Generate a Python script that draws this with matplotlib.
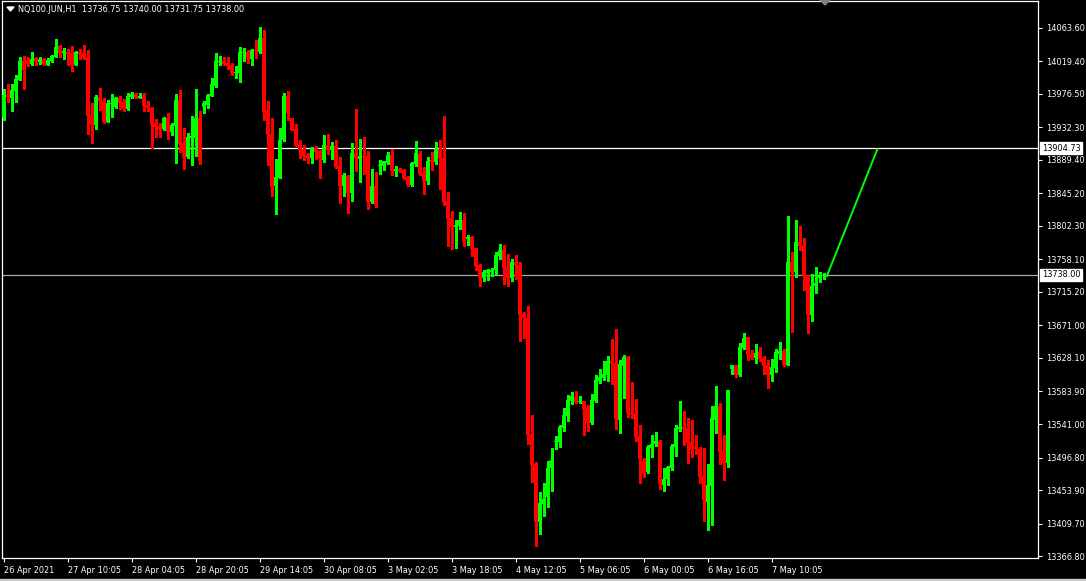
import matplotlib
matplotlib.use("Agg")
import matplotlib.pyplot as plt
from matplotlib.patches import Polygon, Rectangle

# ---------------- data (H1 candles, NQ100.JUN) ----------------
opens = [13945.1, 13975.0, 13971.5, 13980.8, 13995.3, 14019.5, 14020.8, 14016.4, 14023.9, 14019.0,
         14022.5, 14015.1, 14019.5, 14025.6, 14039.7, 14030.5, 14031.8, 14030.5, 14015.1, 14031.8,
         14030.5, 14025.2, 13948.7, 13935.5, 13972.4, 13967.1, 13939.4, 13963.2, 13959.2, 13971.1,
         13965.8, 13956.6, 13972.4, 13976.4, 13971.1, 13975.0, 13961.8, 13957.9, 13938.1, 13934.1,
         13930.2, 13944.7, 13926.2, 13934.1, 13968.4, 13911.7, 13893.2, 13918.3, 13918.3, 13944.7,
         13959.2, 13961.8, 13973.7, 13986.9, 14018.6, 14019.9, 14017.3, 14014.6, 14004.1, 14004.1,
         14030.5, 14031.8, 14022.5, 14034.4, 14031.8, 14050.3, 13953.9, 13923.6, 13855.0, 13865.5,
         13915.7, 13973.7, 13944.7, 13930.2, 13909.1, 13903.8, 13895.9, 13891.9, 13905.1, 13901.2,
         13889.3, 13909.1, 13902.5, 13907.8, 13881.4, 13855.0, 13868.2, 13845.7, 13898.5, 13890.6,
         13894.6, 13894.6, 13833.9, 13855.0, 13881.4, 13881.4, 13885.3, 13895.9, 13874.8, 13877.4,
         13876.1, 13866.9, 13856.3, 13884.0, 13897.2, 13872.1, 13861.6, 13889.3, 13886.7, 13903.8,
         13892.0, 13835.2, 13812.8, 13800.9, 13802.2, 13810.2, 13785.1, 13787.7, 13773.2, 13750.8,
         13733.6, 13740.2, 13741.5, 13744.2, 13762.7, 13770.6, 13748.2, 13733.6, 13754.8, 13750.8,
         13686.6, 13680.9, 13527.8, 13488.2, 13412.2, 13435.5, 13444.7, 13483.0, 13517.3, 13517.7,
         13536.2, 13551.6, 13571.4, 13576.6, 13570.1, 13571.4, 13562.1, 13542.3, 13571.4, 13597.8,
         13601.7, 13605.7, 13624.2, 13621.5, 13546.7, 13617.6, 13629.4, 13555.5, 13555.5, 13525.2,
         13492.6, 13477.7, 13509.8, 13514.6, 13518.6, 13461.0, 13468.9, 13483.0, 13511.1, 13534.4,
         13537.1, 13535.7, 13517.3, 13510.7, 13508.0, 13472.3, 13438.5, 13459.6, 13546.2, 13564.7,
         13505.3, 13489.5, 13613.5, 13617.5, 13606.0, 13641.2, 13655.7, 13633.3, 13628.0, 13635.9,
         13628.0, 13618.8, 13605.6, 13614.8, 13633.3, 13637.3, 13618.8, 13754.7, 13741.5, 13781.1,
         13777.1, 13737.5, 13684.8, 13723.0, 13733.6, 13736.75]
highs = [13983.0, 13989.6, 13989.6, 14001.4, 14024.7, 14026.5, 14025.6, 14031.8, 14025.2, 14025.2,
         14023.9, 14023.9, 14027.8, 14048.9, 14041.5, 14037.1, 14035.7, 14039.7, 14033.1, 14035.7,
         14041.0, 14034.4, 13964.5, 13975.0, 13984.3, 13971.1, 13968.4, 13976.4, 13972.4, 13973.7,
         13969.8, 13977.7, 13979.0, 13977.7, 13977.7, 13977.7, 13967.1, 13959.2, 13943.4, 13938.1,
         13946.0, 13951.3, 13938.1, 13976.4, 13981.6, 13931.5, 13924.9, 13947.3, 13983.0, 13953.9,
         13967.1, 13976.4, 13997.5, 14030.5, 14026.5, 14025.2, 14025.2, 14017.3, 14013.3, 14038.4,
         14037.1, 14034.4, 14035.7, 14047.6, 14064.8, 14060.8, 13967.1, 13944.7, 13890.6, 13931.5,
         13977.7, 13980.3, 13944.7, 13936.8, 13915.7, 13909.1, 13898.5, 13906.4, 13907.8, 13902.5,
         13922.3, 13923.6, 13913.0, 13915.7, 13893.2, 13872.1, 13869.5, 13911.7, 13956.6, 13917.0,
         13919.6, 13901.2, 13877.4, 13873.5, 13889.3, 13888.0, 13899.8, 13903.8, 13881.4, 13878.7,
         13877.4, 13868.2, 13886.6, 13914.4, 13901.2, 13880.0, 13893.2, 13899.9, 13913.1, 13915.7,
         13947.4, 13847.1, 13822.0, 13810.2, 13820.7, 13819.4, 13790.4, 13789.1, 13773.2, 13752.1,
         13744.2, 13745.5, 13746.8, 13767.9, 13778.5, 13777.2, 13765.3, 13758.7, 13764.0, 13754.8,
         13688.8, 13696.7, 13552.9, 13490.9, 13451.3, 13463.2, 13492.2, 13509.4, 13525.2, 13539.7,
         13562.1, 13579.3, 13583.2, 13584.6, 13578.0, 13571.4, 13566.1, 13580.6, 13605.7, 13613.6,
         13624.2, 13630.7, 13653.2, 13666.4, 13625.5, 13632.1, 13630.7, 13596.4, 13574.0, 13539.7,
         13496.2, 13513.3, 13526.5, 13530.5, 13519.9, 13483.0, 13485.6, 13514.6, 13539.7, 13571.4,
         13558.2, 13548.9, 13546.3, 13526.5, 13511.1, 13509.3, 13488.2, 13564.7, 13591.1, 13568.7,
         13526.4, 13585.8, 13618.8, 13618.8, 13647.8, 13661.0, 13655.7, 13638.6, 13646.5, 13642.5,
         13630.7, 13625.4, 13626.7, 13639.9, 13649.1, 13639.9, 13815.4, 13767.9, 13810.1, 13802.2,
         13786.4, 13737.5, 13738.9, 13748.1, 13741.5, 13740.0]
lows = [13942.1, 13966.2, 13954.4, 13966.2, 13994.8, 13983.0, 14013.7, 14015.1, 14015.1, 14016.4,
        14015.1, 14015.1, 14018.6, 14024.7, 14024.7, 14023.0, 14015.1, 14007.1, 14015.1, 14023.0,
        14023.0, 13924.0, 13912.2, 13930.6, 13955.3, 13938.1, 13939.4, 13946.0, 13957.9, 13956.6,
        13954.4, 13955.3, 13971.5, 13971.1, 13971.1, 13953.9, 13953.9, 13905.1, 13919.6, 13919.6,
        13928.9, 13917.0, 13922.3, 13885.3, 13899.8, 13877.4, 13891.9, 13882.7, 13894.6, 13884.0,
        13951.3, 13957.9, 13973.7, 13985.6, 14014.6, 14014.6, 14009.3, 14001.4, 13997.5, 13992.2,
        14019.9, 14017.3, 14014.6, 14023.9, 14030.5, 13942.1, 13882.7, 13841.8, 13818.0, 13865.5,
        13914.4, 13942.1, 13928.9, 13907.8, 13891.9, 13889.3, 13885.3, 13885.3, 13890.6, 13865.5,
        13886.6, 13897.2, 13890.6, 13878.7, 13832.5, 13841.8, 13819.4, 13835.2, 13874.8, 13860.3,
        13870.8, 13824.6, 13832.5, 13827.3, 13870.8, 13876.1, 13884.0, 13869.5, 13868.2, 13873.5,
        13864.2, 13855.0, 13855.0, 13881.4, 13869.5, 13844.4, 13857.6, 13876.1, 13884.1, 13851.1,
        13829.9, 13775.9, 13771.9, 13773.2, 13798.3, 13775.9, 13777.2, 13762.7, 13744.2, 13723.1,
        13729.7, 13731.0, 13736.3, 13738.9, 13758.7, 13725.7, 13723.1, 13729.7, 13732.3, 13651.0,
        13654.5, 13514.6, 13464.9, 13380.5, 13396.3, 13420.1, 13432.0, 13453.1, 13508.5, 13511.1,
        13532.2, 13545.4, 13567.9, 13568.7, 13568.7, 13527.0, 13532.2, 13541.5, 13570.1, 13595.6,
        13599.1, 13598.2, 13593.4, 13534.9, 13529.6, 13575.8, 13550.7, 13549.4, 13519.0, 13463.6,
        13471.5, 13476.8, 13497.9, 13512.0, 13455.7, 13453.1, 13461.0, 13480.3, 13499.2, 13532.2,
        13513.8, 13490.0, 13497.9, 13501.9, 13463.6, 13413.4, 13401.1, 13408.1, 13529.5, 13488.6,
        13467.5, 13484.7, 13607.4, 13603.4, 13604.7, 13639.9, 13625.4, 13626.7, 13621.4, 13624.1,
        13606.9, 13588.4, 13597.7, 13609.6, 13626.7, 13617.5, 13618.8, 13662.3, 13734.9, 13770.5,
        13717.8, 13661.0, 13676.9, 13713.8, 13728.3, 13731.75]
closes = [13975.0, 13972.4, 13981.6, 13996.2, 14019.9, 14008.5, 14016.4, 14022.5, 14019.0, 14022.5,
          14016.4, 14020.8, 14026.5, 14038.4, 14030.9, 14033.1, 14029.6, 14015.1, 14031.8, 14029.6,
          14024.3, 13947.8, 13935.5, 13972.4, 13967.1, 13939.4, 13964.5, 13964.5, 13971.1, 13964.5,
          13957.0, 13973.7, 13976.4, 13971.1, 13973.7, 13960.5, 13957.9, 13935.5, 13932.8, 13930.2,
          13944.7, 13926.2, 13935.5, 13968.4, 13910.4, 13891.9, 13919.6, 13920.9, 13944.7, 13888.0,
          13964.5, 13975.0, 13989.6, 14019.9, 14019.9, 14015.9, 14013.3, 14004.1, 14005.4, 14031.8,
          14031.8, 14022.5, 14034.4, 14033.1, 14050.3, 13952.6, 13922.3, 13853.7, 13866.9, 13915.7,
          13973.7, 13951.3, 13928.9, 13907.8, 13902.5, 13894.6, 13891.9, 13905.1, 13899.8, 13890.6,
          13909.1, 13902.5, 13907.8, 13880.0, 13855.0, 13869.5, 13845.7, 13898.5, 13891.9, 13894.6,
          13893.2, 13833.9, 13855.0, 13829.9, 13882.7, 13888.0, 13895.9, 13874.8, 13877.4, 13874.8,
          13865.5, 13856.3, 13885.3, 13898.5, 13870.8, 13861.6, 13888.0, 13886.7, 13903.8, 13892.0,
          13833.9, 13811.5, 13800.9, 13803.6, 13810.2, 13781.1, 13787.7, 13771.9, 13749.5, 13733.6,
          13741.5, 13744.2, 13744.2, 13764.0, 13770.6, 13746.8, 13733.6, 13754.8, 13750.8, 13685.3,
          13681.3, 13526.5, 13486.9, 13412.2, 13436.8, 13442.1, 13483.0, 13493.5, 13518.6, 13537.1,
          13552.9, 13572.7, 13578.0, 13570.1, 13571.4, 13560.8, 13542.3, 13572.7, 13599.1, 13603.0,
          13607.0, 13624.2, 13621.5, 13547.6, 13620.2, 13629.4, 13555.5, 13554.7, 13523.9, 13495.3,
          13476.8, 13510.7, 13514.6, 13518.6, 13462.3, 13468.5, 13484.3, 13512.0, 13535.7, 13537.1,
          13534.4, 13516.4, 13507.2, 13508.0, 13471.5, 13440.7, 13460.5, 13548.9, 13564.7, 13504.4,
          13489.5, 13585.8, 13618.8, 13606.0, 13642.5, 13654.4, 13632.0, 13628.0, 13634.6, 13626.7,
          13617.5, 13605.6, 13616.2, 13635.9, 13637.3, 13618.8, 13754.7, 13741.5, 13781.1, 13775.8,
          13736.2, 13684.8, 13723.0, 13727.0, 13737.5, 13738.0]

time_labels = ["26 Apr 2021", "27 Apr 10:05", "28 Apr 04:05", "28 Apr 20:05", "29 Apr 14:05",
               "30 Apr 08:05", "3 May 02:05", "3 May 18:05", "4 May 12:05", "5 May 06:05",
               "6 May 00:05", "6 May 16:05", "7 May 10:05"]
time_label_bars = [0, 16, 32, 48, 64, 80, 96, 112, 128, 144, 160, 176, 192]

price_ticks = [14063.60, 14019.40, 13976.50, 13932.30, 13889.40, 13845.20, 13802.30, 13758.10,
               13715.20, 13671.00, 13628.10, 13583.90, 13541.00, 13496.80, 13453.90, 13409.70,
               13366.80]

level_lines = [13904.73, 13738.00]
level_colors = ["#ffffff", "#a8a8a8"]
trend_x = [205.7, 218.5]
trend_y = [13734.9, 13904.73]
title = "NQ100.JUN,H1  13736.75 13740.00 13731.75 13738.00"

# ---------------- figure ----------------
W, H = 1086, 581
fig = plt.figure(figsize=(W / 100, H / 100), dpi=100, facecolor="black")
left_px, right_px, top_px, bot_px = 2, 1038, 0.5, 558
ax = fig.add_axes([left_px / W, (H - bot_px) / H, (right_px - left_px) / W, (bot_px - top_px) / H])
ax.set_facecolor("black")

x_off = 3.7 / 4.0
ax.set_xlim(-x_off + (2 - 2) / 4.0 - 0.0, (right_px - left_px) / 4.0 - x_off + 0.5)
ax.set_xlim(-(3.7 - 2) / 4.0, (right_px - 3.7) / 4.0)
ax.set_ylim(13364.2, 14099.8)

bull = "#00ff00"
bear = "#ff0000"
min_body = 1.2
for i, (o, h, l, c) in enumerate(zip(opens, highs, lows, closes)):
    col = bull if c >= o else bear
    ax.vlines(i, l, h, color=col, linewidth=0.75, antialiased=False, zorder=3)
    lo = min(o, c)
    ht = max(abs(c - o), min_body)
    ax.bar(i, ht, bottom=lo, width=0.72, color=col, linewidth=0, antialiased=False, zorder=4)

for lvl, lc in zip(level_lines, level_colors):
    ax.axhline(lvl, color=lc, linewidth=0.9, zorder=2)

ax.plot(trend_x, trend_y, color=bull, linewidth=1.4, zorder=5, solid_capstyle="butt")

for s in ax.spines.values():
    s.set_color("white")
    s.set_linewidth(0.9)

ax.yaxis.tick_right()
ax.set_yticks(price_ticks)
ax.set_yticklabels([f"{v:.2f}" for v in price_ticks])
ax.tick_params(axis="y", colors="white", length=3, width=0.8, pad=3, labelsize=5.9,
               labelcolor="white")
ax.set_xticks(time_label_bars)
ax.set_xticklabels(time_labels, ha="left")
ax.tick_params(axis="x", colors="white", length=3, width=0.8, pad=3, labelsize=5.9,
               labelcolor="white")
for lab in ax.get_xticklabels():
    lab.set_horizontalalignment("left")

for lvl in level_lines:
    ax.annotate(f"{lvl:.2f}", xy=(1.0, lvl), xycoords=("axes fraction", "data"),
                xytext=(4, 0), textcoords="offset pixels", va="center", ha="left",
                fontsize=5.9, color="black", zorder=10, annotation_clip=False,
                bbox=dict(boxstyle="square,pad=0.2", fc="white", ec="white"))

# title and small markers
fig.text(18 / W, 1 - 9 / H, title, color="white", fontsize=5.9, va="center", ha="left")
fig.patches.append(Polygon([[7 / W, 1 - 7 / H], [14 / W, 1 - 7 / H], [10.5 / W, 1 - 11 / H]],
                           closed=True, transform=fig.transFigure, color="white"))
fig.patches.append(Polygon([[820 / W, 1.0], [830 / W, 1.0], [825 / W, 1 - 5 / H]],
                           closed=True, transform=fig.transFigure, color="#808080"))
fig.patches.append(Rectangle((0, 0), 1, 2 / H, transform=fig.transFigure, color="#c8c8c8"))

fig.savefig("out.png", dpi=100, facecolor="black")
